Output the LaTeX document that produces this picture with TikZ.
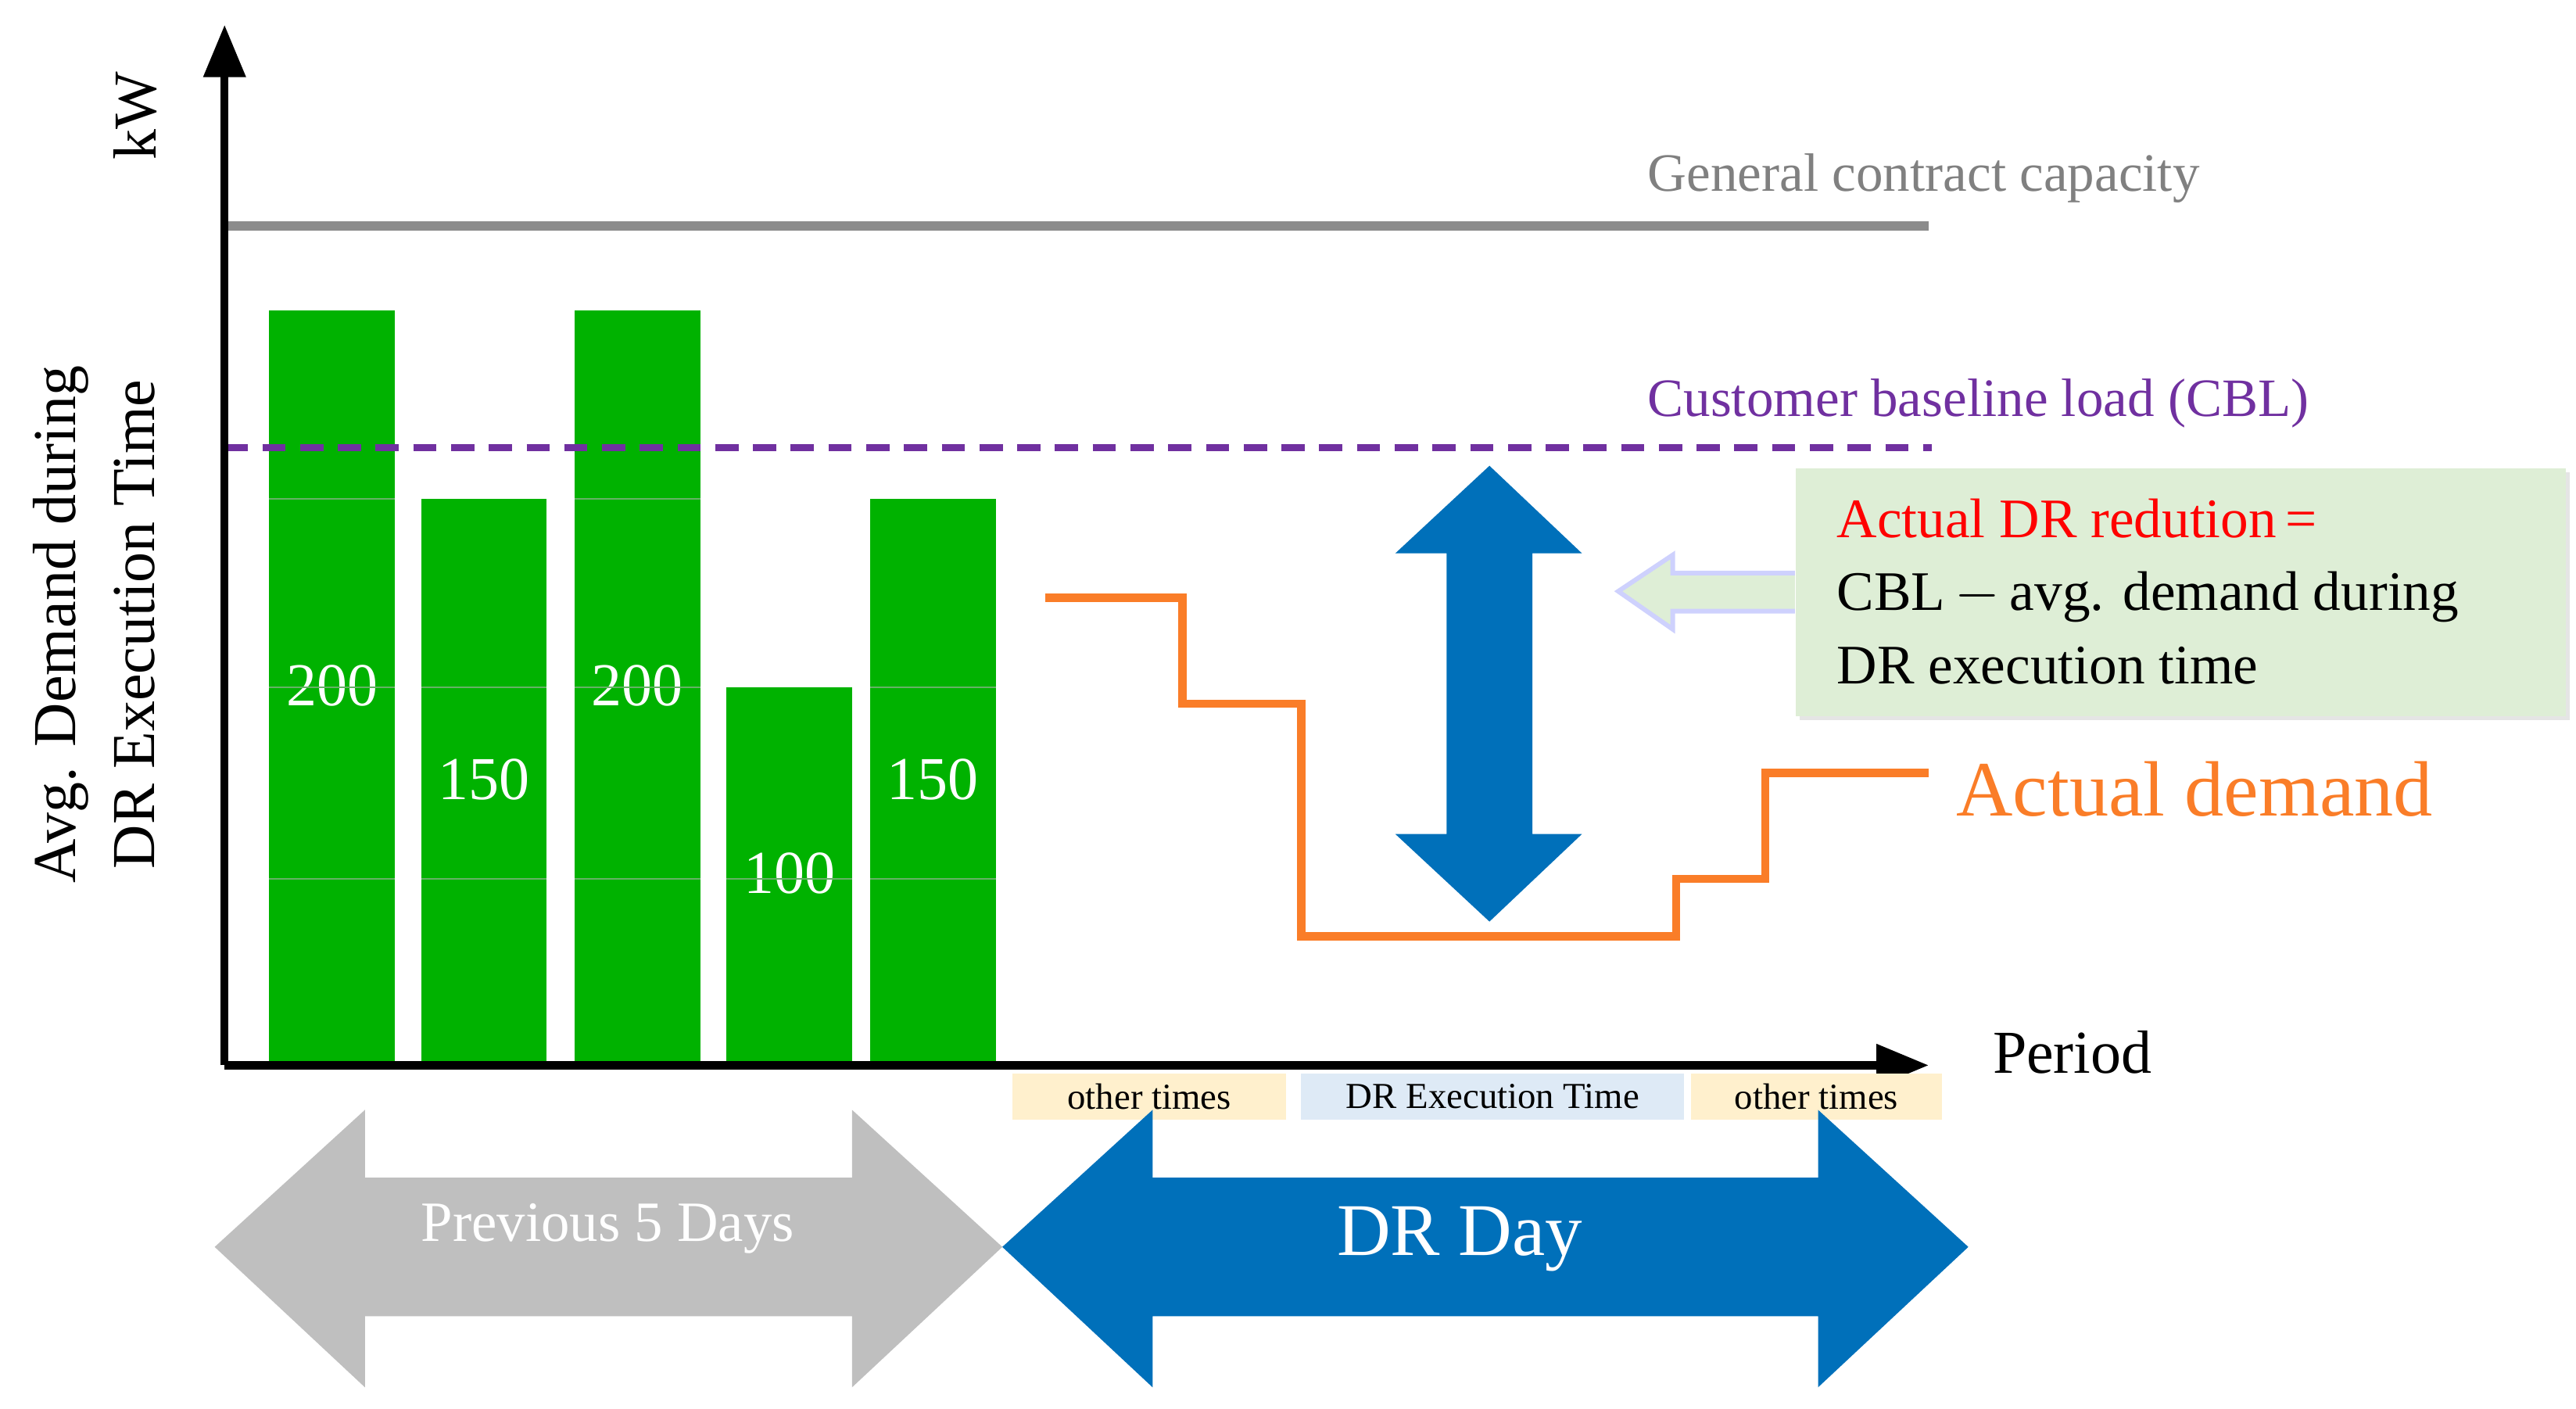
\documentclass[tikz,border=0pt]{standalone}
\usepackage{fontspec}
\setmainfont{Liberation Serif}
\usetikzlibrary{shapes.arrows,arrows.meta}
\definecolor{bargreen}{RGB}{0,178,0}
\definecolor{dorange}{RGB}{250,125,40}
\definecolor{dblue}{RGB}{0,112,186}
\definecolor{cpurple}{RGB}{112,48,160}
\definecolor{boxgreen}{RGB}{222,238,214}
\definecolor{lyellow}{RGB}{255,240,205}
\definecolor{lblue}{RGB}{222,234,246}
\tikzset{
 bar/.style={fill=bargreen,draw=none},
 barlab/.style={text=white,font=\fontsize{10.5}{12}\selectfont},
 tag/.style={font=\fontsize{6.3}{7}\selectfont,inner sep=0pt,anchor=center},
}
\begin{document}
\begin{tikzpicture}[x=0.01cm,y=-0.01cm]
\useasboundingbox (0,0) rectangle (1560,853);
% bars
\foreach \a/\t/\v/\ly in {163/188/200/415,255/302/150/472,348/188/200/415,440/416/100/529,527/302/150/472}{
  \fill[bargreen] (\a,\t) rectangle (\a+76,645);
  \node[barlab] (b\a) at (\a+38,\ly) {\v};
}
\foreach \a/\t in {163/188,255/302,348/188,440/416,527/302}{
  \foreach \yy in {302,416,532}{
    \ifnum\yy>\t \draw[green!50!black!60,line width=0.3pt] (\a,\yy) -- (\a+76,\yy);\fi
  }
}
% lines
\draw[gray!90,line width=1.6pt] (136,137) coordinate (g0) -- (1168,137) coordinate (g1);
\node[text=gray,font=\fontsize{9.3}{11}\selectfont] (gl) at (1165,108) {General contract capacity};
\draw[cpurple,dashed,dash pattern=on 4pt off 2.5pt,line width=1.3pt] (136,271) -- (1170,271);
\node[text=cpurple,font=\fontsize{9.3}{11}\selectfont] (cl) at (1198,244) {Customer baseline load (CBL)};
\draw[dorange,line width=1.4pt] (633,362) -- (716,362) -- (716,426) -- (788,426) -- (788,567) -- (1015,567) -- (1015,532) -- (1069,532) -- (1069,468) -- (1168,468);
\node[text=dorange,font=\fontsize{13.5}{15}\selectfont] (ad) at (1329,478) {Actual demand};
% axes
\draw[line width=1.4pt,-{Triangle[length=9pt,width=7pt]}] (136,645) -- (136,15);
\draw[line width=1.4pt,-{Triangle[length=9pt,width=7pt]}] (136,645) -- (1168,645);
\node[font=\fontsize{10.5}{12}\selectfont] (pl) at (1255,637) {Period};
\node[rotate=90,font=\fontsize{10.5}{12}\selectfont] (kw) at (82,70) {kW};
\node[rotate=90,font=\fontsize{10.5}{13.5}\selectfont,align=center] (yl) at (57,378) {Avg. Demand during\\DR Execution Time};
% vertical double arrow
\fill[dblue] (902,282) -- (958,335) -- (928,335) -- (928,505) -- (958,505) -- (902,558) -- (845,505) -- (876,505) -- (876,335) -- (845,335) -- cycle;
% green box and arrow
\fill[black!10] (1090,286) rectangle (1556,436);
\node[fill=boxgreen,minimum width=466\pgflinewidth,inner sep=0pt,anchor=north west,minimum width=4.66cm,minimum height=1.5cm] (box) at (1087,283) {};
\node[anchor=west,align=left,font=\fontsize{9.6}{12.6}\selectfont] (bt) at (1100,358) {\textcolor{red}{Actual DR redution\,=}\\CBL$\,-\,$avg. demand during\\DR execution time};
\draw[draw=lblue!60!blue!40,fill=boxgreen,line width=0.8pt] (1087,347) -- (1013,347) -- (1013,336) -- (980,358) -- (1013,381) -- (1013,370) -- (1087,370);
% tags
\fill[lyellow] (613,650) rectangle (779,678);
\node[tag] (t1) at (696,664) {other times};
\fill[lblue] (788,650) rectangle (1020,678);
\node[tag] (t2) at (904,664) {DR Execution Time};
\fill[lyellow] (1024,650) rectangle (1176,678);
\node[tag] (t3) at (1100,664) {other times};
% big arrows
\fill[gray!100!black!50] (130,755) -- (221,672) -- (221,713) -- (516,713) -- (516,672) -- (607,755) -- (516,840) -- (516,797) -- (221,797) -- (221,840) -- cycle;
\node[text=white,font=\fontsize{9.8}{12}\selectfont] (p5) at (368,744) {Previous 5 Days};
\fill[dblue] (607,755) -- (698,672) -- (698,713) -- (1101,713) -- (1101,672) -- (1192,755) -- (1101,840) -- (1101,797) -- (698,797) -- (698,840) -- cycle;
\node[text=white,font=\fontsize{12.8}{15}\selectfont] (dd) at (884,750) {DR Day};
\end{tikzpicture}
\end{document}
